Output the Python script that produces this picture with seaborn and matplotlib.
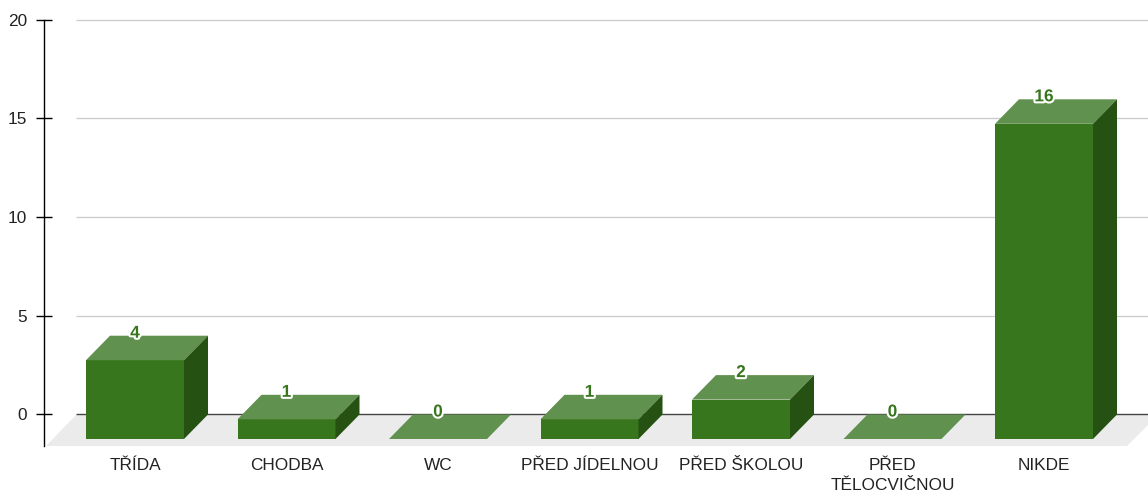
import matplotlib
matplotlib.use("Agg")
import matplotlib.pyplot as plt
import matplotlib.patheffects as pe
from matplotlib.patches import Polygon
import pandas as pd
import seaborn as sns

categories = ["TŘÍDA", "CHODBA", "WC", "PŘED JÍDELNOU", "PŘED ŠKOLOU", "PŘED\nTĚLOCVIČNOU", "NIKDE"]
values = [4, 1, 0, 1, 2, 0, 16]
y_ticks = [0, 5, 10, 15, 20]

FRONT = "#38761d"
TOP = "#61914e"
SIDE = "#255113"
FLOOR = "#ebebeb"
GRID = "#cccccc"
ZERO = "#444444"
TEXT = "#222222"

W, H = 1148, 490
AX_L, AX_T, AX_B = 44.0, 20.0, 446.0
Y0_PX, UNIT_PX = 414.0, 19.7
X0_PX, STEP_PX = 135.0, 151.5
BAR_PX, DX_PX, DY_PX = 98.0, 24.0, 25.0
TOP_SHIFT_PX = 0.5


def xd(px):
    return (px - X0_PX) / STEP_PX


def yd(py):
    return (Y0_PX - py) / UNIT_PX


sns.set_theme(style="white", rc={"font.family": ["Liberation Sans", "DejaVu Sans"]})
fig = plt.figure(figsize=(W / 100, H / 100), dpi=100, facecolor="white")
ax = fig.add_axes([AX_L / W, 1 - AX_B / H, (W - AX_L) / W, (AX_B - AX_T) / H])
ax.set_facecolor("none")

df = pd.DataFrame({"cat": categories, "val": values})
sns.barplot(data=df, x="cat", y="val", color=FRONT, saturation=1,
            width=BAR_PX / STEP_PX, ax=ax, zorder=4, linewidth=0)

dx, dy = DX_PX / STEP_PX, DY_PX / UNIT_PX
shift = TOP_SHIFT_PX / UNIT_PX

ax.add_patch(Polygon([(xd(46), yd(AX_B)), (xd(76), yd(415)), (xd(1148), yd(415)),
                      (xd(1148), yd(425)), (xd(1127), yd(AX_B))],
                     closed=True, fc=FLOOR, ec="none", zorder=1))
for t in y_ticks:
    ax.plot([xd(76), xd(W)], [t, t], color=ZERO if t == 0 else GRID, lw=1.0, zorder=2,
            solid_capstyle="butt", clip_on=False)

for bar, v in zip(ax.patches, values):
    if isinstance(bar, Polygon):
        continue
    x0, w = bar.get_x(), bar.get_width()
    back = v - shift
    y_top = back - (dy - shift)
    bar.set_y(-dy)
    bar.set_height(y_top + dy)
    x1 = x0 + w
    ax.add_patch(Polygon([(x0, y_top), (x1, y_top), (x1 + dx, back), (x0 + dx, back)],
                         closed=True, fc=TOP, ec="none", zorder=5))
    if v > 0:
        ax.add_patch(Polygon([(x1, -dy), (x1 + dx, -shift), (x1 + dx, back), (x1, y_top)],
                             closed=True, fc=SIDE, ec="none", zorder=5))
    ax.text(x0 + w / 2, v + 2 / UNIT_PX, str(v), ha="center", va="center",
            fontsize=12.4, fontweight="bold", color=FRONT, zorder=7,
            path_effects=[pe.withStroke(linewidth=3, foreground="white")])

ax.set_xlim(xd(AX_L), xd(W))
ax.set_ylim(yd(AX_B), yd(AX_T))
ax.set_yticks(y_ticks)
ax.set_xticks(range(len(categories)))
ax.set_xticklabels(categories)
ax.set_xlabel("")
ax.set_ylabel("")
ax.tick_params(axis="x", length=0, pad=8.8, labelsize=12.4, labelcolor=TEXT)
ax.tick_params(axis="y", direction="inout", length=12.2, width=1, color="black", pad=6.2,
               left=True, labelsize=12.4, labelcolor=TEXT)
for s in ["top", "right", "bottom"]:
    ax.spines[s].set_visible(False)
ax.spines["left"].set_color("black")
ax.spines["left"].set_linewidth(1)
for lab in ax.get_xticklabels():
    lab.set_linespacing(1.43)

fig.savefig("out.png", dpi=100)
